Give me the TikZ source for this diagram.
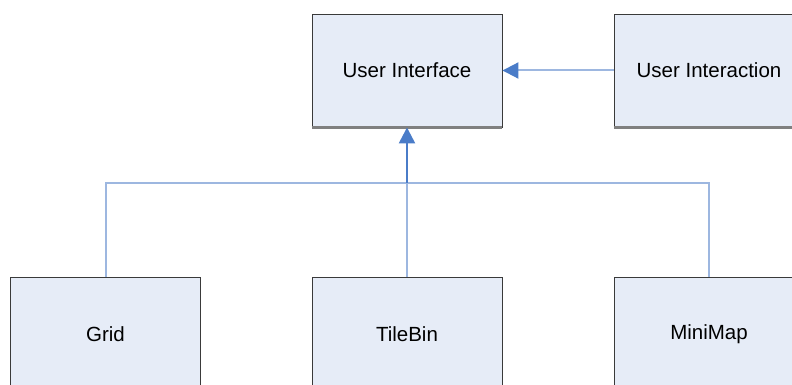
\documentclass[tikz,border=0pt]{standalone}
\usepackage{fontspec}
\setmainfont{Liberation Sans}
\usetikzlibrary{calc}
\usetikzlibrary{arrows.meta}

\definecolor{boxfill}{HTML}{E6ECF7}
\definecolor{boxline}{HTML}{3A3A3A}
\definecolor{boxshade}{HTML}{808080}
\definecolor{busline}{HTML}{9DB7E0}
\definecolor{arrowblue}{HTML}{4A7CC8}

\tikzset{
	module/.style={draw=boxline, fill=boxfill, line width=0.9pt,
		minimum width=190pt, minimum height=113pt, inner sep=0pt,
		font=\fontsize{20.5}{22}\selectfont},
	link/.style={draw=busline, line width=2pt},
	inherit/.style={-{Triangle[length=16pt,width=16pt,color=arrowblue]}}
}

\begin{document}
\begin{tikzpicture}[x=1pt,y=-1pt]
		\useasboundingbox (0,0) rectangle (792,385);
		\clip (0,0) rectangle (792,385);
%		top row
		\node[module] (ui) at (407,70.5) {User Interface};
		\node[module] (interaction) at (709,70.5) {User Interaction};
%		bottom row
		\node[module] (grid) at (105.5,334) {Grid};
		\node[module] (tilebin) at (407,334) {TileBin};
		\node[module] (minimap) at (709,334) {MiniMap};
%		shaded bottom edges
		\foreach \m in {ui,interaction}
			\draw[boxshade, line width=2.5pt] (\m.south west) -- (\m.south east);
%		bus joining the lower modules
		\coordinate (bus) at ($(tilebin.north)+(0,-94)$);
		\draw[link] (grid.north) -- (grid.north |- bus) -- (minimap.north |- bus)
			-- (minimap.north);
		\draw[link] (tilebin.north) -- (bus);
		\draw[inherit, arrowblue, line width=2.4pt] (bus) -- (ui.south);
%		interaction feeds the interface
		\draw[link, inherit] (interaction.west) -- (ui.east);
\end{tikzpicture}
\end{document}
